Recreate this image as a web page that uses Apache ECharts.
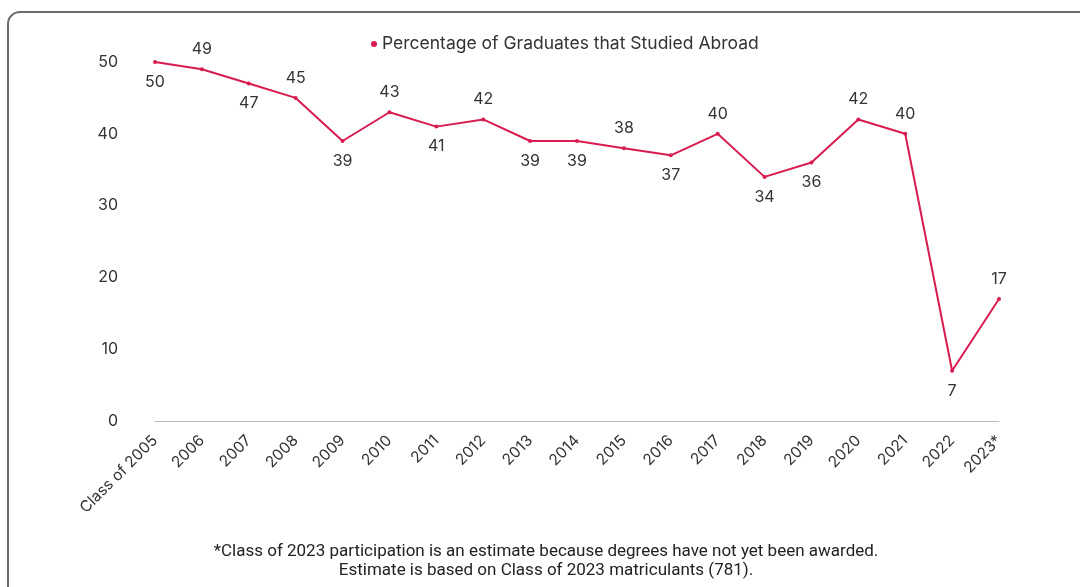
<!DOCTYPE html>
<html><head><meta charset="utf-8">
<script src="https://cdn.jsdelivr.net/npm/echarts@6/dist/echarts.min.js"></script>
<style>html,body{margin:0;padding:0;background:#fff}#c{width:1080px;height:587px}</style>
</head><body><div id="c"></div>
<script>
const categories = ['Class of 2005','2006','2007','2008','2009','2010','2011','2012','2013','2014','2015','2016','2017','2018','2019','2020','2021','2022','2023*'];
const values = [50,49,47,45,39,43,41,42,39,39,38,37,40,34,36,42,40,7,17];
const labelSide = ['bottom','top','bottom','top','bottom','top','bottom','top','bottom','bottom','top','bottom','top','bottom','bottom','top','top','bottom','top'];
const seriesName = 'Percentage of Graduates that Studied Abroad';
const footnote1 = '*Class of 2023 participation is an estimate because degrees have not yet been awarded.';
const footnote2 = 'Estimate is based on Class of 2023 matriculants (781).';
const yTicks = {min:0, max:50, interval:10};

const color = '#d81b50';
const font = 'Inter, Liberation Sans, Arial, sans-serif';
const chart = echarts.init(document.getElementById('c'), null, {renderer:'canvas'});
chart.setOption({
  backgroundColor:'#fff',
  animation:false,
  textStyle:{fontFamily:font},
  legend:{
    data:[seriesName], left:366, top:30, icon:'circle', itemWidth:6, itemHeight:6, itemGap:6,
    textStyle:{fontSize:17.5, color:'#333', fontFamily:font}
  },
  grid:{left:155, right:81, top:62, bottom:166, containLabel:false},
  xAxis:{
    type:'category', data:categories, boundaryGap:false,
    axisLine:{show:true, lineStyle:{color:'#bdbdbd', width:1}},
    axisTick:{show:false},
    axisLabel:{rotate:45, fontSize:15.5, color:'#333', margin:17, interval:0, fontFamily:font}
  },
  yAxis:{
    type:'value', min:yTicks.min, max:yTicks.max, interval:yTicks.interval,
    axisLine:{show:false}, axisTick:{show:false}, splitLine:{show:false},
    axisLabel:{fontSize:16, color:'#333', margin:37, fontFamily:font}
  },
  series:[{
    name:seriesName, type:'line', data:values.map((v,i)=>({value:v, label:{position:labelSide[i]}})),
    symbol:'circle', symbolSize:4,
    lineStyle:{color:color, width:2}, itemStyle:{color:color},
    label:{show:true, fontSize:16, color:'#333', distance:10, fontFamily:font}
  }],
  graphic:[
    {type:'rect', shape:{x:8, y:12, width:1100, height:620, r:12}, style:{fill:'none', stroke:'#6b6b6b', lineWidth:2}, silent:true},
    {type:'text', x:546, y:543, style:{text:footnote1, textAlign:'center', font:'17px Roboto, sans-serif', fill:'#222'}},
    {type:'text', x:546, y:562, style:{text:footnote2, textAlign:'center', font:'17px Roboto, sans-serif', fill:'#222'}}
  ]
});
</script></body></html>
